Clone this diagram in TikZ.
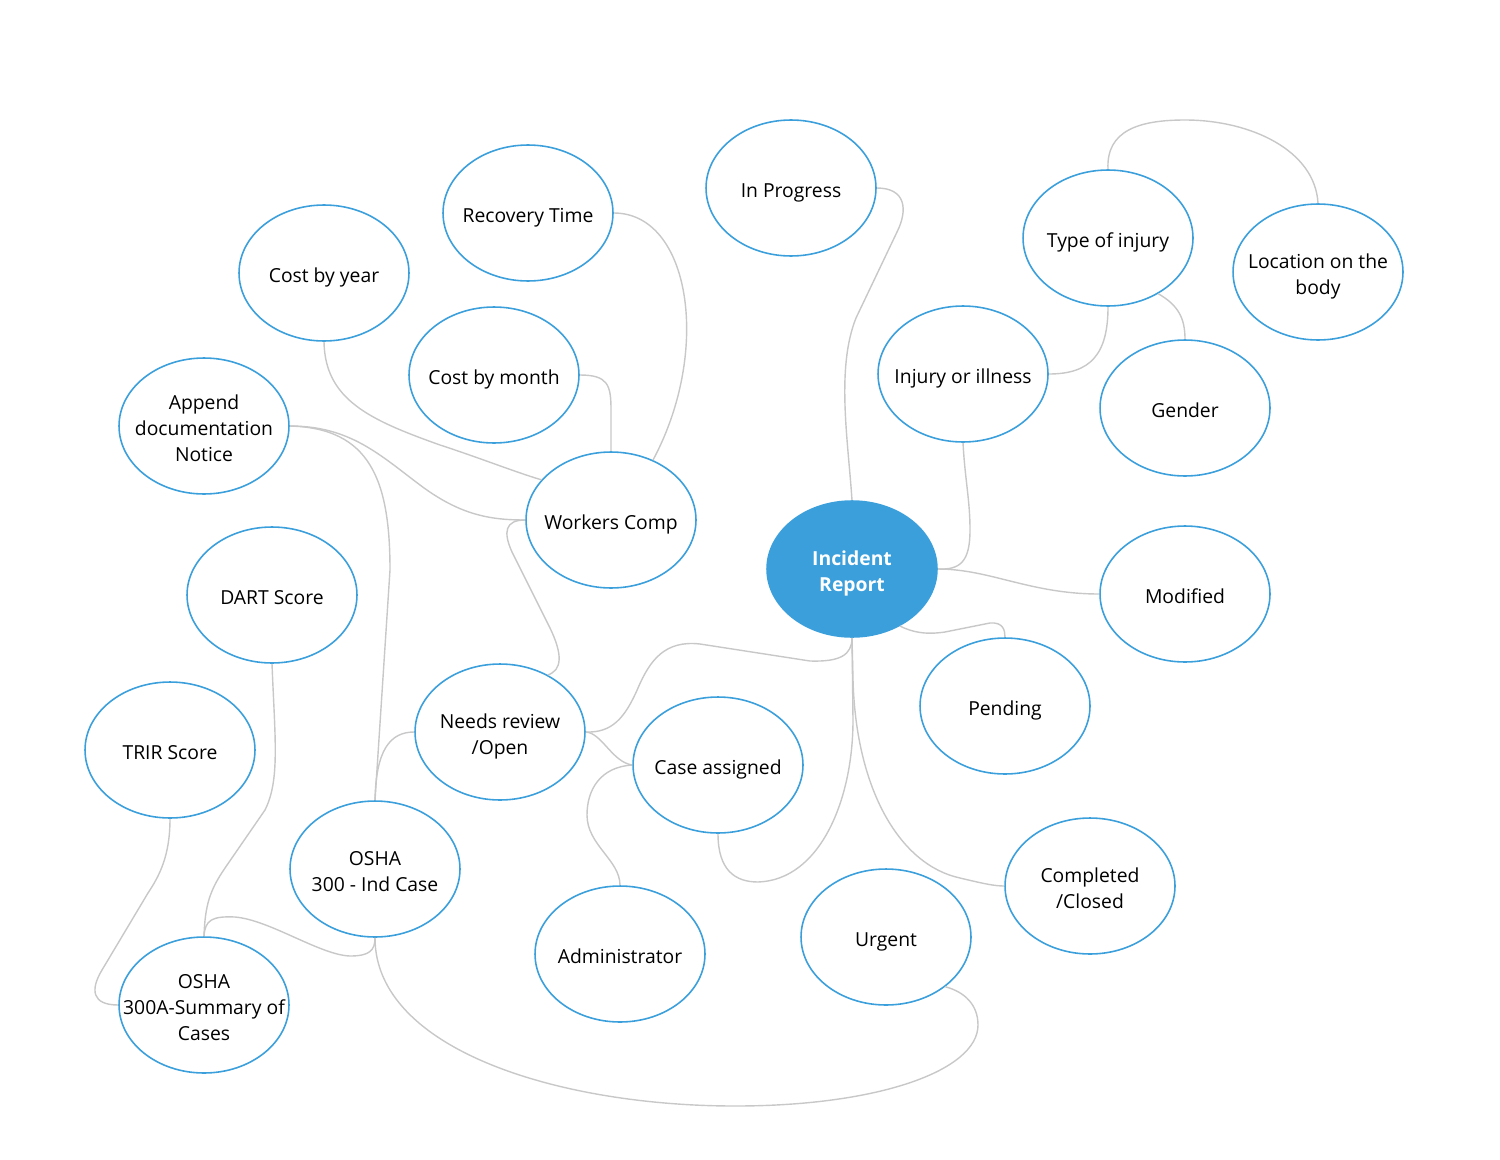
\documentclass[tikz,border=0pt]{standalone}
\usepackage{fontspec}
\setmainfont{Open Sans}
\usetikzlibrary{shapes.geometric}

\definecolor{topicblue}{HTML}{3A9FDB}
\definecolor{linkgray}{HTML}{C8C8C8}

% text kept out of the ellipse size
\newcommand{\bubbletext}[1]{\makebox[0pt]{\raisebox{-0.08cm}[\height][\depth]{\begin{tabular}{@{}c@{}}#1\end{tabular}}}}

\begin{document}
\begin{tikzpicture}[
x = 0.02cm, y = -0.02cm, % pixel grid of the sketch
font = \fontsize{11}{14.8}\selectfont,
line width = 0.8pt % connector style
]
\tikzstyle{topic}=[
ellipse,
draw = topicblue,
line width = 0.9pt,
fill = white,
inner sep = 0pt,
minimum width = 3.4cm,
minimum height = 2.72cm
]
\tikzstyle{hub}=[
topic,
fill = topicblue,
text = white,
font = \fontsize{11}{14.8}\selectfont\bfseries
]
\tikzstyle{link}=[
draw = linkgray,
line width = 0.8pt
]
\useasboundingbox (0,0) rectangle (1500,1159);

\node[hub] (incident) at (852,569) {\bubbletext{Incident\\Report}};
\node[topic] (inprog) at (791,188) {\bubbletext{In Progress}};
\node[topic] (recov) at (528,213) {\bubbletext{Recovery Time}};
\node[topic] (costyear) at (324,273) {\bubbletext{Cost by year}};
\node[topic] (typeinj) at (1108,238) {\bubbletext{Type of injury}};
\node[topic] (location) at (1318,272) {\bubbletext{Location on the\\body}};
\node[topic] (costmonth) at (494,375) {\bubbletext{Cost by month}};
\node[topic] (injill) at (963,374) {\bubbletext{Injury or illness}};
\node[topic] (gender) at (1185,408) {\bubbletext{Gender}};
\node[topic] (append) at (204,426) {\bubbletext{Append\\documentation\\Notice}};
\node[topic] (wcomp) at (611,520) {\bubbletext{Workers Comp}};
\node[topic] (modified) at (1185,594) {\bubbletext{Modified}};
\node[topic] (dart) at (272,595) {\bubbletext{DART Score}};
\node[topic] (pending) at (1005,706) {\bubbletext{Pending}};
\node[topic] (needs) at (500,732) {\bubbletext{Needs review\\/Open}};
\node[topic] (trir) at (170,750) {\bubbletext{TRIR Score}};
\node[topic] (caseas) at (718,765) {\bubbletext{Case assigned}};
\node[topic] (osha300) at (375,869) {\bubbletext{OSHA\\300 - Ind Case}};
\node[topic] (completed) at (1090,886) {\bubbletext{Completed\\/Closed}};
\node[topic] (urgent) at (886,937) {\bubbletext{Urgent}};
\node[topic] (admin) at (620,954) {\bubbletext{Administrator}};
\node[topic] (osha300a) at (204,1005) {\bubbletext{OSHA\\300A-Summary of\\Cases}};

% links around the hub
\path[link] (inprog.east) .. controls (906,188) and (908,210) .. (897,232) -- (856,318) .. controls (836,368) and (848,440) .. (incident.north);
\path[link] (injill.south) .. controls (965,480) and (970,500) .. (970,530) .. controls (970,562) and (960,570) .. (incident.east);
\path[link] (incident.east) .. controls (990,569) and (1030,594) .. (modified.west);
\path[link] (incident.-50) .. controls (912,632) and (925,635) .. (945,632) -- (990,623) .. controls (1003,622) and (1005,630) .. (pending.north);
\path[link] (incident.south) .. controls (852,655) and (840,662) .. (810,661) -- (700,644) .. controls (665,640) and (650,660) .. (638,688) .. controls (625,718) and (612,733) .. (needs.east);
\path[link] (caseas.south) .. controls (718,870) and (735,882) .. (758,882) .. controls (820,880) and (853,800) .. (853,720) -- (incident.south);
\path[link] (incident.south) -- (853,680) .. controls (856,790) and (900,865) .. (960,878) .. controls (985,884) and (995,886) .. (completed.west);

% injury details
\path[link] (typeinj.north) .. controls (1106,130) and (1140,120) .. (1185,120) .. controls (1250,120) and (1315,150) .. (location.north);
\path[link] (typeinj.south) .. controls (1108,355) and (1090,374) .. (injill.east);
\path[link] (typeinj.-48) .. controls (1178,305) and (1185,318) .. (gender.north);

% workers comp branch
\path[link] (recov.east) .. controls (690,213) and (712,350) .. (wcomp.55);
\path[link] (costyear.south) .. controls (325,400) and (370,420) .. (440,445) .. controls (480,458) and (515,472) .. (wcomp.150);
\path[link] (costmonth.east) .. controls (608,375) and (611,385) .. (611,410) -- (wcomp.north);
\path[link] (append.east) .. controls (350,426) and (380,455) .. (420,485) .. controls (460,515) and (490,520) .. (wcomp.west);
\path[link] (append.east) .. controls (370,428) and (390,480) .. (390,570) -- (osha300.north);
\path[link] (wcomp.west) .. controls (505,520) and (503,532) .. (512,552) -- (550,628) .. controls (563,655) and (562,670) .. (needs.50);

% case handling
\path[link] (needs.east) .. controls (602,733) and (612,762) .. (caseas.west);
\path[link] (caseas.west) .. controls (600,767) and (587,790) .. (587,815) .. controls (587,845) and (620,860) .. (admin.north);
\path[link] (needs.west) .. controls (390,732) and (376,750) .. (osha300.north);

% OSHA records
\path[link] (dart.south) .. controls (275,740) and (280,780) .. (265,810) -- (225,868) .. controls (210,890) and (205,905) .. (osha300a.north);
\path[link] (trir.south) .. controls (170,855) and (160,875) .. (148,893) -- (102,970) .. controls (90,990) and (92,1005) .. (osha300a.west);
\path[link] (osha300a.north) .. controls (205,920) and (212,916) .. (235,917) .. controls (270,920) and (320,955) .. (350,956) .. controls (370,956) and (375,950) .. (osha300.south);
\path[link] (osha300.south) .. controls (375,1050) and (560,1106) .. (735,1106) .. controls (880,1106) and (978,1070) .. (978,1025) .. controls (978,1005) and (965,992) .. (urgent.-40);
\end{tikzpicture}
\end{document}
